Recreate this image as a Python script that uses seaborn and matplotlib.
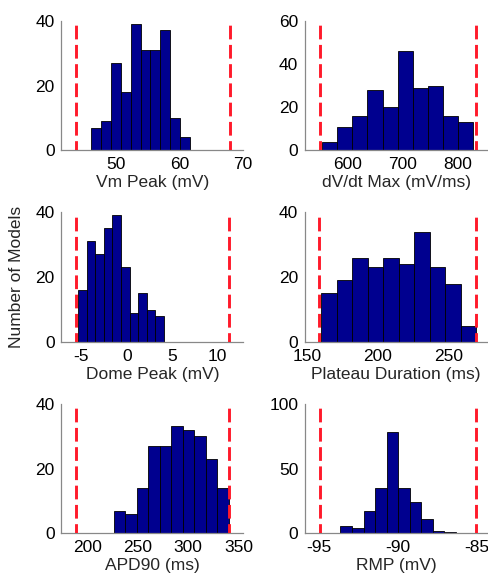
import numpy as np
import pandas as pd
import matplotlib
matplotlib.use("Agg")
import matplotlib.pyplot as plt
import seaborn as sns

sns.set_theme(style="white")
plt.rcParams["font.family"] = ["Liberation Sans", "DejaVu Sans"]
plt.rcParams["axes.unicode_minus"] = False

# histogram counts (10 bins each), bin span and the red dashed bounds
vm_counts = [7, 9, 27, 18, 39, 31, 31, 37, 10, 4]
vm_span = (46.1, 61.6)
vm_bounds = (43.75, 67.97)

dvdt_counts = [4, 11, 16, 28, 20, 46, 29, 30, 16, 13]
dvdt_span = (552.2, 829.6)
dvdt_bounds = (549.2, 834.2)

dome_counts = [16, 31, 27, 35, 39, 23, 9, 15, 10, 8]
dome_span = (-5.37, 4.10)
dome_bounds = (-5.62, 11.31)

plateau_counts = [15, 19, 26, 23, 26, 24, 34, 23, 18, 5]
plateau_span = (160.1, 269.4)
plateau_bounds = (158.3, 269.6)

apd_counts = [7, 6, 14, 27, 27, 33, 32, 30, 23, 14]
apd_span = (226.0, 340.4)
apd_bounds = (188.5, 341.1)

rmp_counts = [6, 4, 17, 35, 78, 35, 24, 11, 2, 1]
rmp_span = (-93.62, -86.32)
rmp_bounds = (-94.89, -85.04)

xlabels = ["Vm Peak (mV)", "dV/dt Max (mV/ms)", "Dome Peak (mV)",
           "Plateau Duration (ms)", "APD90 (ms)", "RMP (mV)"]
xticks = [[50, 60, 70], [600, 700, 800], [-5, 0, 5, 10],
          [150, 200, 250], [200, 250, 300, 350], [-95, -90, -85]]
yticks = [[0, 20, 40], [0, 20, 40, 60], [0, 20, 40],
          [0, 20, 40], [0, 20, 40], [0, 50, 100]]

# axis limits, layout only
xlims = [(41.4, 70.05), (521.5, 854.5), (-7.19, 12.84),
         (148.6, 277.2), (173.7, 354.9), (-95.85, -84.36)]

counts = [vm_counts, dvdt_counts, dome_counts, plateau_counts, apd_counts, rmp_counts]
spans = [vm_span, dvdt_span, dome_span, plateau_span, apd_span, rmp_span]
bounds = [vm_bounds, dvdt_bounds, dome_bounds, plateau_bounds, apd_bounds, rmp_bounds]

fig, axes = plt.subplots(3, 2, figsize=(4.88, 5.73), dpi=100)
fig.subplots_adjust(left=0.126, right=0.998, top=0.964, bottom=0.069,
                    wspace=0.34, hspace=0.475)

for i, ax in enumerate(axes.flat):
    c = counts[i]
    lo, hi = spans[i]
    step = (hi - lo) / len(c)
    df = pd.DataFrame({"x": lo + step * (np.arange(len(c)) + 0.5), "n": c})
    sns.histplot(data=df, x="x", weights="n", bins=len(c), binrange=(lo, hi),
                 ax=ax, color="#00008F", edgecolor="black", linewidth=0.6,
                 alpha=1)
    for b in bounds[i]:
        ax.axvline(b, color="#FF1A2A", ls=(1.5, (4.7, 1.9)), lw=2.1, zorder=5)

    ax.set_xlim(xlims[i])
    ax.set_ylim(yticks[i][0], yticks[i][-1])
    ax.set_xticks(xticks[i])
    ax.set_yticks(yticks[i])
    ax.set_xlabel(xlabels[i], fontsize=12.5, labelpad=2)
    ax.set_ylabel("")

    sns.despine(ax=ax)
    for s in ["left", "bottom"]:
        ax.spines[s].set_color("#888888")
        ax.spines[s].set_linewidth(0.9)
    ax.tick_params(direction="in", length=3, width=0.8, color="#888888",
                   labelsize=12.5, labelcolor="black")
    ax.tick_params(axis="x", pad=5)
    ax.tick_params(axis="y", pad=5)

axes[1, 0].set_ylabel("Number of Models", fontsize=12.5)
axes[1, 0].yaxis.set_label_coords(-0.206, 0.5)

fig.savefig("out.png", dpi=100)
